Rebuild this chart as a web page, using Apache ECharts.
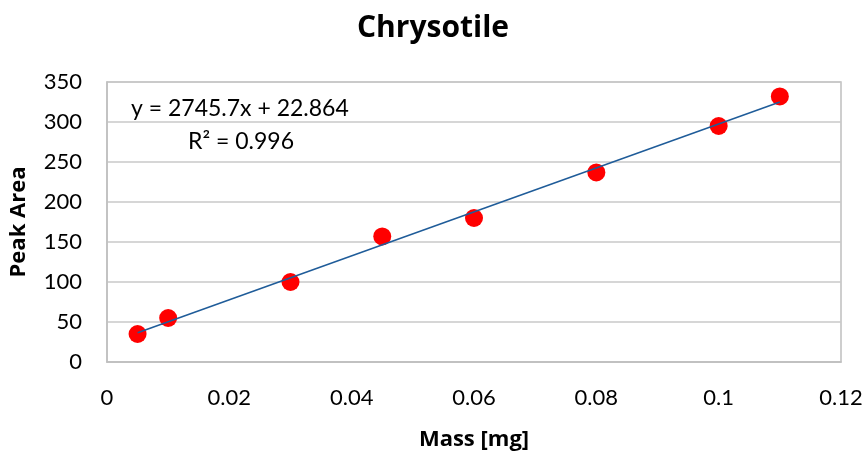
<!DOCTYPE html>
<html>
<head>
<meta charset="utf-8">
<script src="https://cdn.jsdelivr.net/npm/echarts@6/dist/echarts.min.js"></script>
<style>html,body{margin:0;padding:0;background:#fff}#c{width:866px;height:452px}</style>
</head>
<body>
<div id="c"></div>
<script>
var chartTitle = "Chrysotile";
var xAxisName = "Mass [mg]";
var yAxisName = "Peak Area";
var massValues = [0.005, 0.01, 0.03, 0.045, 0.06, 0.08, 0.1, 0.11];
var peakAreaValues = [35, 55, 100, 157, 180, 237, 295, 332];
var trendX = [0.005, 0.11];
var trendY = [36.6, 324.9];
var equationText = "y = 2745.7x + 22.864";
var r2Text = "R\u00b2 = 0.996";

var boldFont = "'Open Sans', sans-serif";
var font = "Lato, 'Open Sans', sans-serif";
var chart = echarts.init(document.getElementById('c'));
chart.setOption({
  animation: false,
  backgroundColor: '#ffffff',
  title: {
    text: chartTitle, left: 'center', top: 8,
    textStyle: {fontFamily: boldFont, fontWeight: 'bold', fontSize: 30, color: '#000'}
  },
  grid: {left: 107, right: 25, top: 82, bottom: 90, show: true, borderColor: '#bfbfbf', borderWidth: 1.5,
         containLabel: false, outerBoundsMode: 'none'},
  xAxis: {
    type: 'value', min: 0, max: 0.12, interval: 0.02,
    name: xAxisName, nameLocation: 'middle', nameGap: 67,
    nameTextStyle: {fontFamily: boldFont, fontWeight: 'bold', fontSize: 22, color: '#000'},
    axisLine: {show: true, lineStyle: {color: '#bfbfbf', width: 1.5}},
    axisTick: {show: false},
    splitLine: {show: false},
    axisLabel: {fontFamily: font, fontSize: 22, color: '#000', margin: 25}
  },
  yAxis: {
    type: 'value', min: 0, max: 350, interval: 50,
    name: yAxisName, nameLocation: 'middle', nameGap: 77,
    nameTextStyle: {fontFamily: boldFont, fontWeight: 'bold', fontSize: 22, color: '#000'},
    axisLine: {show: true, lineStyle: {color: '#bfbfbf', width: 1.5}},
    axisTick: {show: false},
    splitLine: {show: true, lineStyle: {color: '#c8c8c8', width: 1.5}},
    axisLabel: {fontFamily: font, fontSize: 22, color: '#000', margin: 25}
  },
  graphic: [
    {type: 'text', left: 131, top: 97, style: {text: equationText, font: '23px ' + font, fill: '#000'}},
    {type: 'text', left: 188, top: 130, style: {text: r2Text, font: '23px ' + font, fill: '#000'}}
  ],
  series: [
    {
      type: 'scatter', name: 'data',
      data: massValues.map(function (m, i) { return [m, peakAreaValues[i]]; }),
      symbol: 'circle', symbolSize: 18,
      itemStyle: {color: '#ff0000', opacity: 1}, z: 2
    },
    {
      type: 'line', name: 'trend',
      data: trendX.map(function (x, i) { return [x, trendY[i]]; }),
      symbol: 'none', lineStyle: {color: '#1f5c99', width: 1.5}, z: 3
    }
  ]
});
</script>
</body>
</html>
